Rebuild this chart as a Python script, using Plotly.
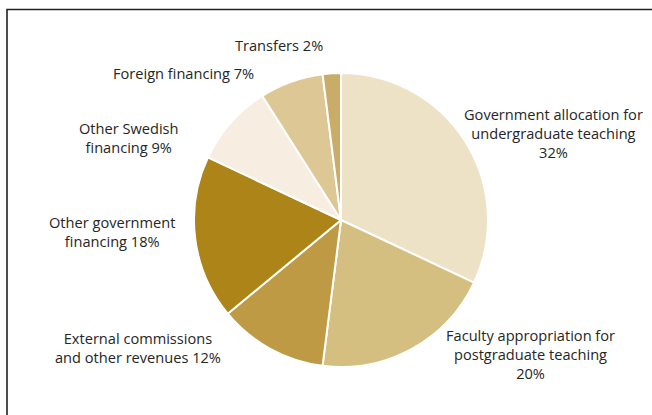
import plotly.graph_objects as go

# Funding sources, clockwise from 12 o'clock
categories = [
    "Government allocation for undergraduate teaching",
    "Faculty appropriation for postgraduate teaching",
    "External commissions and other revenues",
    "Other government financing",
    "Other Swedish financing",
    "Foreign financing",
    "Transfers",
]
shares = [32, 20, 12, 18, 9, 7, 2]
colors = ["#EEE2C6", "#D4BE80", "#BE9A45", "#AC8418", "#F7EEE1", "#DDC795", "#C8AC68"]

# Label text (with line breaks) and anchor points in pixels (x from left, y from top)
label_lines = [
    ["Government allocation for", "undergraduate teaching", "32%"],
    ["Faculty appropriation for", "postgraduate teaching", "20%"],
    ["External commissions", "and other revenues 12%"],
    ["Other government", "financing 18%"],
    ["Other Swedish", "financing 9%"],
    ["Foreign financing 7%"],
    ["Transfers 2%"],
]
label_pos = [(553, 133), (530, 354), (138, 347), (112, 231), (128, 137), (183, 73), (279, 45)]

W, H = 652, 415
cx, cy, r = 341, 220, 147

fig = go.Figure(
    go.Pie(
        labels=categories,
        values=shares,
        sort=False,
        direction="clockwise",
        rotation=0,
        marker=dict(colors=colors, line=dict(color="white", width=2)),
        textinfo="none",
        hoverinfo="label+percent",
        showlegend=False,
        domain=dict(
            x=[(cx - r) / W, (cx + r) / W],
            y=[(H - cy - r) / H, (H - cy + r) / H],
        ),
    )
)

for lines, (px, py) in zip(label_lines, label_pos):
    fig.add_annotation(
        x=px / W, y=1 - py / H, xref="paper", yref="paper",
        text="<br>".join(lines), showarrow=False, align="center",
        xanchor="center", yanchor="middle",
        font=dict(family="Open Sans", size=14.6, color="#262626"),
    )

# Frame: left and top edges
fig.add_shape(
    type="path", xref="paper", yref="paper",
    path=f"M {7 / W} -0.05 L {7 / W} {1 - 9.5 / H} L 1.05 {1 - 9.5 / H}",
    line=dict(color="#222222", width=1.6),
)

fig.update_layout(
    width=W, height=H,
    margin=dict(l=0, r=0, t=0, b=0),
    paper_bgcolor="white", plot_bgcolor="white",
)

fig.write_html("out.html")
